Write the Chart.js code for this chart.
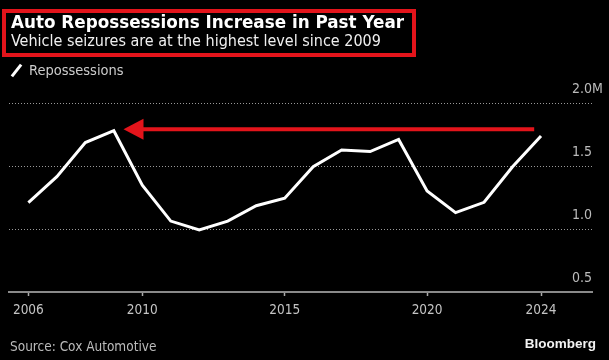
<!DOCTYPE html>
<html>
<head>
<meta charset="utf-8">
<script src="https://cdn.jsdelivr.net/npm/chart.js@4/dist/chart.umd.min.js"></script>
<style>
  html, body { margin: 0; padding: 0; background: #000; }
  #wrap { position: relative; width: 609px; height: 360px; background: #000; overflow: hidden; }
  #c { position: absolute; left: 0; top: 0; }
  .txt { position: absolute; white-space: nowrap; }
  #box { position: absolute; left: 2px; top: 9px; width: 414px; height: 48px; border: 4px solid #e3141b; box-sizing: border-box; }
  #title { left: 11px; top: 11.5px; font: bold 16.8px/20px "DejaVu Sans", sans-serif; color: #fff; }
  #subtitle { left: 11px; top: 32px; font: 16px/18px "DejaVu Sans Condensed", "DejaVu Sans", sans-serif; color: #f0f0f0; }
  #legicon { position: absolute; left: 15px; top: 63px; width: 3px; height: 15px; background: #fff; transform: rotate(38deg); }
  #legend { left: 29px; top: 62px; font: 14.5px/16px "DejaVu Sans Condensed", "DejaVu Sans", sans-serif; color: #ccc; }
  #source { left: 10px; top: 338px; font: 13.5px/16px "DejaVu Sans Condensed", "DejaVu Sans", sans-serif; color: #bbb; }
  #brand { right: 13px; top: 336px; font: bold 13.5px/16px "Liberation Sans", Arial, sans-serif; color: #f2f2f2; }
</style>
</head>
<body>
<div id="wrap">
  <canvas id="c" width="609" height="360"></canvas>
  <div id="box"></div>
  <div class="txt" id="title">Auto Repossessions Increase in Past Year</div>
  <div class="txt" id="subtitle">Vehicle seizures are at the highest level since 2009</div>
  <div id="legicon"></div>
  <div class="txt" id="legend">Repossessions</div>
  <div class="txt" id="source">Source: Cox Automotive</div>
  <div class="txt" id="brand">Bloomberg</div>
</div>
<script>
// ---- data ----
const years = [2006, 2007, 2008, 2009, 2010, 2011, 2012, 2013, 2014, 2015, 2016, 2017, 2018, 2019, 2020, 2021, 2022, 2023, 2024];
const repossessions = [1.209, 1.415, 1.686, 1.780, 1.347, 1.063, 0.992, 1.063, 1.185, 1.244, 1.494, 1.627, 1.615, 1.711, 1.302, 1.130, 1.212, 1.494, 1.738];
const xTickYears = [2006, 2010, 2015, 2020, 2024];
const yTickValues = [0.5, 1.0, 1.5, 2.0];
const yUnit = 'M';
const xRange = [2005.32, 2025.79];
const yRange = [0.5, 2.0];
const arrowFrom = [2023.76, 1.791];
const arrowTo = [2009.34, 1.791];

const FONT = '"DejaVu Sans Condensed", "DejaVu Sans", sans-serif';

const yLabelsPlugin = {
  id: 'yLabels',
  afterDraw(chart) {
    const { ctx, chartArea, scales } = chart;
    const y = scales.y;
    ctx.save();
    ctx.font = '14px ' + FONT;
    ctx.fillStyle = '#bbb';
    ctx.textBaseline = 'middle';
    yTickValues.forEach((v, i) => {
      const py = y.getPixelForValue(v) - 14;
      ctx.textAlign = 'right';
      ctx.fillText(v.toFixed(1), chartArea.right, py);
      if (i === yTickValues.length - 1) {
        ctx.textAlign = 'left';
        ctx.fillText(yUnit, chartArea.right, py);
      }
    });
    ctx.restore();
  }
};

const arrowPlugin = {
  id: 'arrow',
  afterDatasetsDraw(chart) {
    const { ctx, scales } = chart;
    const x0 = scales.x.getPixelForValue(arrowFrom[0]);
    const y0 = scales.y.getPixelForValue(arrowFrom[1]);
    const x1 = scales.x.getPixelForValue(arrowTo[0]);
    const y1 = scales.y.getPixelForValue(arrowTo[1]);
    const headLen = 20, headHalf = 10.5;
    ctx.save();
    ctx.strokeStyle = '#e3141b';
    ctx.fillStyle = '#e3141b';
    ctx.lineWidth = 4;
    ctx.beginPath();
    ctx.moveTo(x0, y0);
    ctx.lineTo(x1 + headLen - 1, y1);
    ctx.stroke();
    ctx.beginPath();
    ctx.moveTo(x1, y1);
    ctx.lineTo(x1 + headLen, y1 - headHalf);
    ctx.lineTo(x1 + headLen, y1 + headHalf);
    ctx.closePath();
    ctx.fill();
    ctx.restore();
  }
};

new Chart(document.getElementById('c'), {
  type: 'line',
  data: {
    datasets: [{
      label: 'Repossessions',
      data: years.map((yr, i) => ({ x: yr, y: repossessions[i] })),
      borderColor: '#ffffff',
      borderWidth: 3,
      pointRadius: 0,
      tension: 0,
      fill: false,
      clip: false
    }]
  },
  options: {
    responsive: false,
    animation: false,
    devicePixelRatio: 1,
    layout: { padding: { left: 9, right: 17, top: 103, bottom: 42 } },
    plugins: { legend: { display: false }, tooltip: { enabled: false } },
    scales: {
      x: {
        type: 'linear',
        min: xRange[0],
        max: xRange[1],
        afterBuildTicks: (s) => { s.ticks = xTickYears.map(v => ({ value: v })); },
        afterFit: (s) => { s.height = 26; },
        border: { display: true, color: '#8a8a8a', width: 2 },
        grid: { display: true, drawOnChartArea: false, drawTicks: true, tickLength: 4, tickColor: '#aaa', tickWidth: 1.5 },
        ticks: {
          autoSkip: false, maxRotation: 0, padding: 6,
          color: '#c4c4c4', font: { family: FONT, size: 13.5 },
          callback: (v) => String(v)
        }
      },
      y: {
        type: 'linear',
        position: 'right',
        min: yRange[0],
        max: yRange[1],
        afterBuildTicks: (s) => { s.ticks = yTickValues.map(v => ({ value: v })); },
        afterFit: (s) => { s.width = 0; },
        border: { display: false, dash: [1, 2] },
        grid: {
          drawTicks: false,
          lineWidth: 1,
          color: (c) => (c.tick && c.tick.value === yRange[0]) ? 'rgba(0,0,0,0)' : '#999'
        },
        ticks: { display: false }
      }
    }
  },
  plugins: [yLabelsPlugin, arrowPlugin]
});
</script>
</body>
</html>
